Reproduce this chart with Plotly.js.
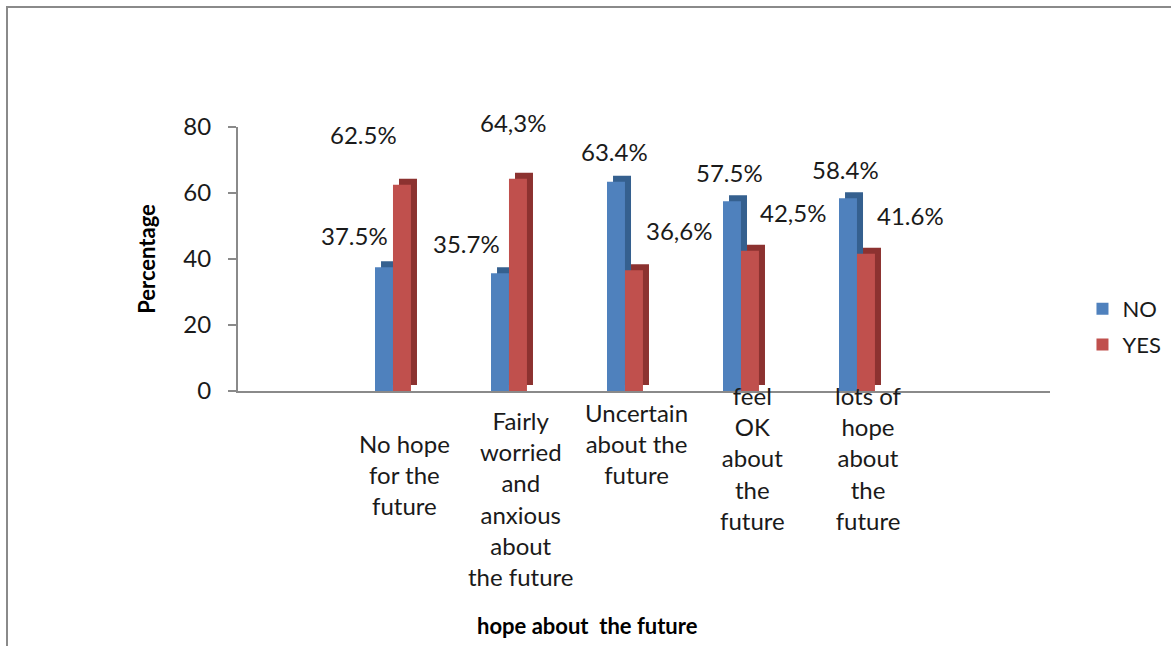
<!DOCTYPE html>
<html>
<head>
<meta charset="utf-8">
<script src="https://cdn.plot.ly/plotly-3.0.1.min.js"></script>
<style>
  html, body { margin: 0; padding: 0; width: 1171px; height: 646px; overflow: hidden; background: #fff; }
  #frame { position: absolute; left: 6px; top: 6px; width: 1400px; height: 900px;
           border-left: 2px solid #8a8a8a; border-top: 2px solid #8a8a8a; box-sizing: border-box; }
  #chart { position: absolute; left: 0; top: 0; width: 1171px; height: 646px; }
</style>
</head>
<body>
<div id="frame"></div>
<div id="chart"></div>
<script>
// ---- data ----
const categories = [
  "No hope<br>for the<br>future",
  "Fairly<br>worried<br>and<br>anxious<br>about<br>the future",
  "Uncertain<br>about the<br>future",
  "feel<br>OK<br>about<br>the<br>future",
  "lots of<br>hope<br>about<br>the<br>future"
];
const catKeys = ["c1", "c2", "c3", "c4", "c5"];
const noValues  = [37.5, 35.7, 63.4, 57.5, 58.4];
const yesValues = [62.5, 64.3, 36.6, 42.5, 41.6];
const noLabels  = ["37.5%", "35.7%", "63.4%", "57.5%", "58.4%"];
const yesLabels = ["62.5%", "64,3%", "36,6%", "42,5%", "41.6%"];
const yTicks = [0, 20, 40, 60, 80];

// ---- styling / placement (not data) ----
const FONT = "Lato, 'Open Sans', sans-serif";
const BLUE = "#4f81bd", BLUE_D = "#35608f";
const RED = "#c0504d", RED_D = "#8c3230";
const W = 0.155, D = 0.052, DEPTH = 1.8;
// pixel offsets of data labels from (group centre, bar top): [right, down]
const noShift  = [[-38, -32], [-42, -30], [-10, -30], [-11, -29], [-11, -29]];
const yesShift = [[-29, -50], [4, -56], [54, -40], [52, -38], [54, -38]];
// vertical pixel shift (up positive) of category label tops relative to the axis line
const catYShift = [-36, -13, -5, 12, 12];

const traces = [
  { type: "bar", x: catKeys, y: noValues, base: DEPTH, offset: -W + D, width: W,
    marker: { color: BLUE_D }, showlegend: false, hoverinfo: "skip" },
  { type: "bar", name: "NO", x: catKeys, y: noValues, offset: -W, width: W,
    marker: { color: BLUE }, legendgroup: "no" },
  { type: "bar", x: catKeys, y: yesValues, base: DEPTH, offset: D, width: W,
    marker: { color: RED_D }, showlegend: false, hoverinfo: "skip" },
  { type: "bar", name: "YES", x: catKeys, y: yesValues, offset: 0, width: W,
    marker: { color: RED }, legendgroup: "yes" }
];

const annotations = [];
catKeys.forEach((k, i) => {
  annotations.push({ x: k, y: noValues[i], xref: "x", yref: "y", text: noLabels[i],
    showarrow: false, xanchor: "center", yanchor: "middle",
    xshift: noShift[i][0], yshift: -noShift[i][1], font: { family: FONT, size: 24, color: "#1a1a1a" } });
  annotations.push({ x: k, y: yesValues[i], xref: "x", yref: "y", text: yesLabels[i],
    showarrow: false, xanchor: "center", yanchor: "middle",
    xshift: yesShift[i][0], yshift: -yesShift[i][1], font: { family: FONT, size: 24, color: "#1a1a1a" } });
  annotations.push({ x: k, y: 0, xref: "x", yref: "paper", text: categories[i],
    showarrow: false, xanchor: "center", yanchor: "top", align: "center",
    xshift: 12, yshift: catYShift[i], font: { family: FONT, size: 24, color: "#1a1a1a" } });
});
annotations.push({ x: 0.43, y: -0.89, xref: "paper", yref: "paper", text: "<b>hope about  the future</b>",
  showarrow: false, xanchor: "center", yanchor: "middle", font: { family: FONT, size: 22, color: "#000" } });

const layout = {
  width: 1171, height: 646,
  margin: { l: 238, r: 121, t: 127, b: 255, autoexpand: false },
  paper_bgcolor: "rgba(0,0,0,0)", plot_bgcolor: "rgba(0,0,0,0)",
  barmode: "overlay",
  showlegend: true,
  legend: { x: 1.04, xanchor: "left", y: 0.39, yanchor: "top", traceorder: "grouped",
    tracegroupgap: 4, font: { family: FONT, size: 22, color: "#1a1a1a" }, bgcolor: "rgba(0,0,0,0)" },
  xaxis: { type: "category", categoryarray: catKeys, range: [-1.336, 5.664],
    showticklabels: false, ticks: "", showgrid: false, zeroline: false,
    showline: true, linecolor: "#8a8a8a", linewidth: 2, fixedrange: true },
  yaxis: { range: [0, 80], tickvals: yTicks, ticktext: yTicks.map(String),
    ticks: "outside", ticklen: 8, tickcolor: "#8a8a8a", tickwidth: 2,
    showgrid: false, zeroline: false, showline: true, linecolor: "#8a8a8a", linewidth: 2,
    ticklabelstandoff: 12,
    tickfont: { family: FONT, size: 24, color: "#1a1a1a" },
    title: { text: "<b>Percentage</b>", standoff: 22, font: { family: FONT, size: 22, color: "#000" } },
    fixedrange: true },
  annotations: annotations
};

Plotly.newPlot("chart", traces, layout, { staticPlot: true, displayModeBar: false });
</script>
</body>
</html>
